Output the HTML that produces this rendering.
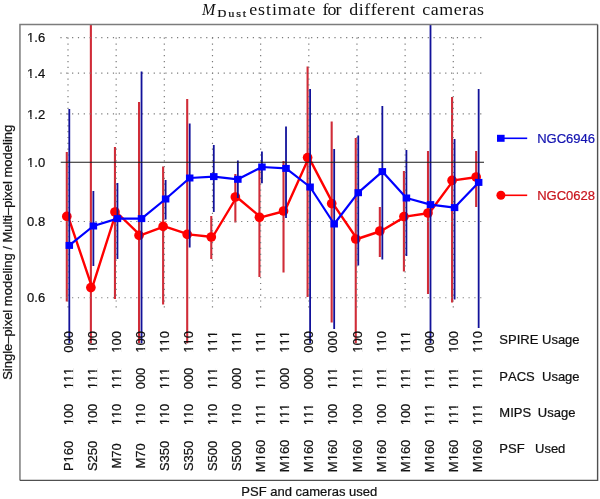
<!DOCTYPE html>
<html><head><meta charset="utf-8"><title>MDust estimate</title>
<style>
html,body{margin:0;padding:0;background:#fff;}
body{width:600px;height:499px;overflow:hidden;}
svg{display:block;}
text{font-family:"Liberation Sans",sans-serif;font-kerning:none;stroke-width:0.22px;}
.serif{font-family:"Liberation Serif",serif;}
</style></head><body>
<svg width="600" height="499" viewBox="0 0 600 499" style="will-change:transform">
<defs><clipPath id="clip"><rect x="20" y="24.4" width="577" height="319.1"/></clipPath></defs>
<rect x="0" y="0" width="600" height="499" fill="#fff"/>
<g transform="translate(45.2,42.26)"><text x="0" y="0" font-size="13" text-anchor="end" fill="#111" stroke="#111">1.6</text><rect x="-17.97" y="-1.8" width="3.07" height="2.6" fill="#fff"/><rect x="-13.55" y="-1.8" width="2.58" height="2.6" fill="#fff"/></g>
<g transform="translate(45.2,77.67)"><text x="0" y="0" font-size="13" text-anchor="end" fill="#111" stroke="#111">1.4</text><rect x="-17.97" y="-1.8" width="3.07" height="2.6" fill="#fff"/><rect x="-13.55" y="-1.8" width="2.58" height="2.6" fill="#fff"/></g>
<g transform="translate(45.2,118.55)"><text x="0" y="0" font-size="13" text-anchor="end" fill="#111" stroke="#111">1.2</text><rect x="-17.97" y="-1.8" width="3.07" height="2.6" fill="#fff"/><rect x="-13.55" y="-1.8" width="2.58" height="2.6" fill="#fff"/></g>
<g transform="translate(45.2,166.90)"><text x="0" y="0" font-size="13" text-anchor="end" fill="#111" stroke="#111">1.0</text><rect x="-17.97" y="-1.8" width="3.07" height="2.6" fill="#fff"/><rect x="-13.55" y="-1.8" width="2.58" height="2.6" fill="#fff"/></g>
<g transform="translate(45.2,226.08)"><text x="0" y="0" font-size="13" text-anchor="end" fill="#111" stroke="#111">0.8</text></g>
<g transform="translate(45.2,302.37)"><text x="0" y="0" font-size="13" text-anchor="end" fill="#111" stroke="#111">0.6</text></g>
<g clip-path="url(#clip)">
<line x1="66.80" y1="152" x2="66.80" y2="301.6" stroke="#d02c38" stroke-width="2.1"/>
<line x1="90.88" y1="20" x2="90.88" y2="343.5" stroke="#d02c38" stroke-width="2.1"/>
<line x1="114.96" y1="147" x2="114.96" y2="299" stroke="#d02c38" stroke-width="2.1"/>
<line x1="139.04" y1="102" x2="139.04" y2="343.5" stroke="#d02c38" stroke-width="2.1"/>
<line x1="163.12" y1="166.4" x2="163.12" y2="304.4" stroke="#d02c38" stroke-width="2.1"/>
<line x1="187.20" y1="99" x2="187.20" y2="343.5" stroke="#d02c38" stroke-width="2.1"/>
<line x1="211.28" y1="216" x2="211.28" y2="259" stroke="#d02c38" stroke-width="2.1"/>
<line x1="235.36" y1="174" x2="235.36" y2="222.4" stroke="#d02c38" stroke-width="2.1"/>
<line x1="259.44" y1="168" x2="259.44" y2="277" stroke="#d02c38" stroke-width="2.1"/>
<line x1="283.52" y1="161" x2="283.52" y2="272.4" stroke="#d02c38" stroke-width="2.1"/>
<line x1="307.60" y1="66.6" x2="307.60" y2="297" stroke="#d02c38" stroke-width="2.1"/>
<line x1="331.68" y1="121.4" x2="331.68" y2="322.4" stroke="#d02c38" stroke-width="2.1"/>
<line x1="355.76" y1="138" x2="355.76" y2="343.5" stroke="#d02c38" stroke-width="2.1"/>
<line x1="379.84" y1="207" x2="379.84" y2="257" stroke="#d02c38" stroke-width="2.1"/>
<line x1="403.92" y1="171" x2="403.92" y2="271.6" stroke="#d02c38" stroke-width="2.1"/>
<line x1="428.00" y1="151" x2="428.00" y2="294" stroke="#d02c38" stroke-width="2.1"/>
<line x1="452.08" y1="97" x2="452.08" y2="302.6" stroke="#d02c38" stroke-width="2.1"/>
<line x1="476.16" y1="151" x2="476.16" y2="207" stroke="#d02c38" stroke-width="2.1"/>
<line x1="60.4" y1="37.66" x2="481.5" y2="37.66" stroke="#7a7a7a" stroke-width="1.2" stroke-dasharray="1.2 4.63"/>
<line x1="60.4" y1="73.07" x2="481.5" y2="73.07" stroke="#7a7a7a" stroke-width="1.2" stroke-dasharray="1.2 4.63"/>
<line x1="60.4" y1="113.95" x2="481.5" y2="113.95" stroke="#7a7a7a" stroke-width="1.2" stroke-dasharray="1.2 4.63"/>
<line x1="60.4" y1="221.48" x2="481.5" y2="221.48" stroke="#7a7a7a" stroke-width="1.2" stroke-dasharray="1.2 4.63"/>
<line x1="60.4" y1="297.77" x2="481.5" y2="297.77" stroke="#7a7a7a" stroke-width="1.2" stroke-dasharray="1.2 4.63"/>
<line x1="68.00" y1="37.60" x2="68.00" y2="307.5" stroke="#7a7a7a" stroke-width="1.2" stroke-dasharray="1.2 4.64"/>
<line x1="116.16" y1="37.60" x2="116.16" y2="307.5" stroke="#7a7a7a" stroke-width="1.2" stroke-dasharray="1.2 4.64"/>
<line x1="164.32" y1="37.60" x2="164.32" y2="307.5" stroke="#7a7a7a" stroke-width="1.2" stroke-dasharray="1.2 4.64"/>
<line x1="212.48" y1="37.60" x2="212.48" y2="307.5" stroke="#7a7a7a" stroke-width="1.2" stroke-dasharray="1.2 4.64"/>
<line x1="260.64" y1="37.60" x2="260.64" y2="307.5" stroke="#7a7a7a" stroke-width="1.2" stroke-dasharray="1.2 4.64"/>
<line x1="308.80" y1="37.60" x2="308.80" y2="307.5" stroke="#7a7a7a" stroke-width="1.2" stroke-dasharray="1.2 4.64"/>
<line x1="356.96" y1="37.60" x2="356.96" y2="307.5" stroke="#7a7a7a" stroke-width="1.2" stroke-dasharray="1.2 4.64"/>
<line x1="405.12" y1="37.60" x2="405.12" y2="307.5" stroke="#7a7a7a" stroke-width="1.2" stroke-dasharray="1.2 4.64"/>
<line x1="453.28" y1="37.60" x2="453.28" y2="307.5" stroke="#7a7a7a" stroke-width="1.2" stroke-dasharray="1.2 4.64"/>
<polyline points="68.10,216.4 92.18,287.6 116.26,212 140.34,235.4 164.42,226.4 188.50,234.4 212.58,237 236.66,197 260.74,217.3 284.82,211 308.90,157.6 332.98,203.6 357.06,239 381.14,231 405.22,216.6 429.30,213 453.38,180.4 477.46,177" fill="none" stroke="#ff0000" stroke-width="2.4" stroke-linejoin="round"/>
<circle cx="66.80" cy="216.4" r="4.85" fill="#ff0000"/>
<circle cx="90.88" cy="287.6" r="4.85" fill="#ff0000"/>
<circle cx="114.96" cy="212" r="4.85" fill="#ff0000"/>
<circle cx="139.04" cy="235.4" r="4.85" fill="#ff0000"/>
<circle cx="163.12" cy="226.4" r="4.85" fill="#ff0000"/>
<circle cx="187.20" cy="234.4" r="4.85" fill="#ff0000"/>
<circle cx="211.28" cy="237" r="4.85" fill="#ff0000"/>
<circle cx="235.36" cy="197" r="4.85" fill="#ff0000"/>
<circle cx="259.44" cy="217.3" r="4.85" fill="#ff0000"/>
<circle cx="283.52" cy="211" r="4.85" fill="#ff0000"/>
<circle cx="307.60" cy="157.6" r="4.85" fill="#ff0000"/>
<circle cx="331.68" cy="203.6" r="4.85" fill="#ff0000"/>
<circle cx="355.76" cy="239" r="4.85" fill="#ff0000"/>
<circle cx="379.84" cy="231" r="4.85" fill="#ff0000"/>
<circle cx="403.92" cy="216.6" r="4.85" fill="#ff0000"/>
<circle cx="428.00" cy="213" r="4.85" fill="#ff0000"/>
<circle cx="452.08" cy="180.4" r="4.85" fill="#ff0000"/>
<circle cx="476.16" cy="177" r="4.85" fill="#ff0000"/>
<line x1="69.30" y1="109" x2="69.30" y2="343.5" stroke="#12129a" stroke-width="1.8"/>
<line x1="93.38" y1="191" x2="93.38" y2="266" stroke="#12129a" stroke-width="1.8"/>
<line x1="117.46" y1="183" x2="117.46" y2="259" stroke="#12129a" stroke-width="1.8"/>
<line x1="141.54" y1="71.6" x2="141.54" y2="343.5" stroke="#12129a" stroke-width="1.8"/>
<line x1="165.62" y1="180" x2="165.62" y2="219.6" stroke="#12129a" stroke-width="1.8"/>
<line x1="189.70" y1="123.6" x2="189.70" y2="247.4" stroke="#12129a" stroke-width="1.8"/>
<line x1="213.78" y1="145" x2="213.78" y2="212" stroke="#12129a" stroke-width="1.8"/>
<line x1="237.86" y1="160.4" x2="237.86" y2="198" stroke="#12129a" stroke-width="1.8"/>
<line x1="261.94" y1="151.4" x2="261.94" y2="183.3" stroke="#12129a" stroke-width="1.8"/>
<line x1="286.02" y1="126.4" x2="286.02" y2="218" stroke="#12129a" stroke-width="1.8"/>
<line x1="310.10" y1="89" x2="310.10" y2="343.5" stroke="#12129a" stroke-width="1.8"/>
<line x1="334.18" y1="149" x2="334.18" y2="329" stroke="#12129a" stroke-width="1.8"/>
<line x1="358.26" y1="135.4" x2="358.26" y2="265.6" stroke="#12129a" stroke-width="1.8"/>
<line x1="382.34" y1="106" x2="382.34" y2="259.6" stroke="#12129a" stroke-width="1.8"/>
<line x1="406.42" y1="150" x2="406.42" y2="256" stroke="#12129a" stroke-width="1.8"/>
<line x1="430.50" y1="20" x2="430.50" y2="343.5" stroke="#12129a" stroke-width="1.8"/>
<line x1="454.58" y1="139" x2="454.58" y2="299.6" stroke="#12129a" stroke-width="1.8"/>
<line x1="478.66" y1="89" x2="478.66" y2="328" stroke="#12129a" stroke-width="1.8"/>
<polyline points="69.30,245.4 93.38,226 117.46,218.6 141.54,218.6 165.62,199 189.70,178 213.78,176.6 237.86,179.3 261.94,167 286.02,168.4 310.10,187 334.18,224 358.26,192.7 382.34,171.6 406.42,198 430.50,204.6 454.58,207.6 478.66,182.4" fill="none" stroke="#0000ff" stroke-width="2.2" stroke-linejoin="round"/>
<rect x="65.55" y="241.90" width="7.5" height="7" fill="#0000ff"/>
<rect x="89.63" y="222.50" width="7.5" height="7" fill="#0000ff"/>
<rect x="113.71" y="215.10" width="7.5" height="7" fill="#0000ff"/>
<rect x="137.79" y="215.10" width="7.5" height="7" fill="#0000ff"/>
<rect x="161.87" y="195.50" width="7.5" height="7" fill="#0000ff"/>
<rect x="185.95" y="174.50" width="7.5" height="7" fill="#0000ff"/>
<rect x="210.03" y="173.10" width="7.5" height="7" fill="#0000ff"/>
<rect x="234.11" y="175.80" width="7.5" height="7" fill="#0000ff"/>
<rect x="258.19" y="163.50" width="7.5" height="7" fill="#0000ff"/>
<rect x="282.27" y="164.90" width="7.5" height="7" fill="#0000ff"/>
<rect x="306.35" y="183.50" width="7.5" height="7" fill="#0000ff"/>
<rect x="330.43" y="220.50" width="7.5" height="7" fill="#0000ff"/>
<rect x="354.51" y="189.20" width="7.5" height="7" fill="#0000ff"/>
<rect x="378.59" y="168.10" width="7.5" height="7" fill="#0000ff"/>
<rect x="402.67" y="194.50" width="7.5" height="7" fill="#0000ff"/>
<rect x="426.75" y="201.10" width="7.5" height="7" fill="#0000ff"/>
<rect x="450.83" y="204.10" width="7.5" height="7" fill="#0000ff"/>
<rect x="474.91" y="178.90" width="7.5" height="7" fill="#0000ff"/>
</g>
<line x1="60.7" y1="162.30" x2="484" y2="162.30" stroke="#1a1a1a" stroke-width="1.1"/>
<line x1="501" y1="138.3" x2="527.2" y2="138.3" stroke="#0000ff" stroke-width="1.6"/>
<rect x="497" y="134.8" width="7.6" height="7" fill="#0000ff"/>
<text x="537.2" y="142.9" font-size="13" fill="#1212b0" stroke="#1212b0">NGC6946</text>
<line x1="501" y1="195.3" x2="527.2" y2="195.3" stroke="#ff0000" stroke-width="1.6"/>
<circle cx="500.9" cy="195.3" r="4.5" fill="#ff0000"/>
<text x="537.2" y="199.7" font-size="13" fill="#c8141c" stroke="#c8141c">NGC0628</text>
<g transform="translate(72.60,341.8) rotate(-90)"><text x="0" y="0" font-size="13" text-anchor="middle" fill="#111" stroke="#111">000</text></g>
<g transform="translate(96.68,341.8) rotate(-90)"><text x="0" y="0" font-size="13" text-anchor="middle" fill="#111" stroke="#111">100</text><rect x="-10.74" y="-1.8" width="3.07" height="2.6" fill="#fff"/><rect x="-6.33" y="-1.8" width="2.58" height="2.6" fill="#fff"/></g>
<g transform="translate(120.76,341.8) rotate(-90)"><text x="0" y="0" font-size="13" text-anchor="middle" fill="#111" stroke="#111">100</text><rect x="-10.74" y="-1.8" width="3.07" height="2.6" fill="#fff"/><rect x="-6.33" y="-1.8" width="2.58" height="2.6" fill="#fff"/></g>
<g transform="translate(144.84,341.8) rotate(-90)"><text x="0" y="0" font-size="13" text-anchor="middle" fill="#111" stroke="#111">100</text><rect x="-10.74" y="-1.8" width="3.07" height="2.6" fill="#fff"/><rect x="-6.33" y="-1.8" width="2.58" height="2.6" fill="#fff"/></g>
<g transform="translate(168.92,341.8) rotate(-90)"><text x="0" y="0" font-size="13" text-anchor="middle" fill="#111" stroke="#111">110</text><rect x="-10.74" y="-1.8" width="3.07" height="2.6" fill="#fff"/><rect x="-6.33" y="-1.8" width="2.58" height="2.6" fill="#fff"/><rect x="-3.51" y="-1.8" width="3.07" height="2.6" fill="#fff"/><rect x="0.90" y="-1.8" width="2.58" height="2.6" fill="#fff"/></g>
<g transform="translate(193.00,341.8) rotate(-90)"><text x="0" y="0" font-size="13" text-anchor="middle" fill="#111" stroke="#111">110</text><rect x="-10.74" y="-1.8" width="3.07" height="2.6" fill="#fff"/><rect x="-6.33" y="-1.8" width="2.58" height="2.6" fill="#fff"/><rect x="-3.51" y="-1.8" width="3.07" height="2.6" fill="#fff"/><rect x="0.90" y="-1.8" width="2.58" height="2.6" fill="#fff"/></g>
<g transform="translate(217.08,341.8) rotate(-90)"><text x="0" y="0" font-size="13" text-anchor="middle" fill="#111" stroke="#111">111</text><rect x="-10.74" y="-1.8" width="3.07" height="2.6" fill="#fff"/><rect x="-6.33" y="-1.8" width="2.58" height="2.6" fill="#fff"/><rect x="-3.51" y="-1.8" width="3.07" height="2.6" fill="#fff"/><rect x="0.90" y="-1.8" width="2.58" height="2.6" fill="#fff"/><rect x="3.71" y="-1.8" width="3.07" height="2.6" fill="#fff"/><rect x="8.13" y="-1.8" width="2.58" height="2.6" fill="#fff"/></g>
<g transform="translate(241.16,341.8) rotate(-90)"><text x="0" y="0" font-size="13" text-anchor="middle" fill="#111" stroke="#111">111</text><rect x="-10.74" y="-1.8" width="3.07" height="2.6" fill="#fff"/><rect x="-6.33" y="-1.8" width="2.58" height="2.6" fill="#fff"/><rect x="-3.51" y="-1.8" width="3.07" height="2.6" fill="#fff"/><rect x="0.90" y="-1.8" width="2.58" height="2.6" fill="#fff"/><rect x="3.71" y="-1.8" width="3.07" height="2.6" fill="#fff"/><rect x="8.13" y="-1.8" width="2.58" height="2.6" fill="#fff"/></g>
<g transform="translate(265.24,341.8) rotate(-90)"><text x="0" y="0" font-size="13" text-anchor="middle" fill="#111" stroke="#111">111</text><rect x="-10.74" y="-1.8" width="3.07" height="2.6" fill="#fff"/><rect x="-6.33" y="-1.8" width="2.58" height="2.6" fill="#fff"/><rect x="-3.51" y="-1.8" width="3.07" height="2.6" fill="#fff"/><rect x="0.90" y="-1.8" width="2.58" height="2.6" fill="#fff"/><rect x="3.71" y="-1.8" width="3.07" height="2.6" fill="#fff"/><rect x="8.13" y="-1.8" width="2.58" height="2.6" fill="#fff"/></g>
<g transform="translate(289.32,341.8) rotate(-90)"><text x="0" y="0" font-size="13" text-anchor="middle" fill="#111" stroke="#111">111</text><rect x="-10.74" y="-1.8" width="3.07" height="2.6" fill="#fff"/><rect x="-6.33" y="-1.8" width="2.58" height="2.6" fill="#fff"/><rect x="-3.51" y="-1.8" width="3.07" height="2.6" fill="#fff"/><rect x="0.90" y="-1.8" width="2.58" height="2.6" fill="#fff"/><rect x="3.71" y="-1.8" width="3.07" height="2.6" fill="#fff"/><rect x="8.13" y="-1.8" width="2.58" height="2.6" fill="#fff"/></g>
<g transform="translate(313.40,341.8) rotate(-90)"><text x="0" y="0" font-size="13" text-anchor="middle" fill="#111" stroke="#111">000</text></g>
<g transform="translate(337.48,341.8) rotate(-90)"><text x="0" y="0" font-size="13" text-anchor="middle" fill="#111" stroke="#111">000</text></g>
<g transform="translate(361.56,341.8) rotate(-90)"><text x="0" y="0" font-size="13" text-anchor="middle" fill="#111" stroke="#111">100</text><rect x="-10.74" y="-1.8" width="3.07" height="2.6" fill="#fff"/><rect x="-6.33" y="-1.8" width="2.58" height="2.6" fill="#fff"/></g>
<g transform="translate(385.64,341.8) rotate(-90)"><text x="0" y="0" font-size="13" text-anchor="middle" fill="#111" stroke="#111">110</text><rect x="-10.74" y="-1.8" width="3.07" height="2.6" fill="#fff"/><rect x="-6.33" y="-1.8" width="2.58" height="2.6" fill="#fff"/><rect x="-3.51" y="-1.8" width="3.07" height="2.6" fill="#fff"/><rect x="0.90" y="-1.8" width="2.58" height="2.6" fill="#fff"/></g>
<g transform="translate(409.72,341.8) rotate(-90)"><text x="0" y="0" font-size="13" text-anchor="middle" fill="#111" stroke="#111">111</text><rect x="-10.74" y="-1.8" width="3.07" height="2.6" fill="#fff"/><rect x="-6.33" y="-1.8" width="2.58" height="2.6" fill="#fff"/><rect x="-3.51" y="-1.8" width="3.07" height="2.6" fill="#fff"/><rect x="0.90" y="-1.8" width="2.58" height="2.6" fill="#fff"/><rect x="3.71" y="-1.8" width="3.07" height="2.6" fill="#fff"/><rect x="8.13" y="-1.8" width="2.58" height="2.6" fill="#fff"/></g>
<g transform="translate(433.80,341.8) rotate(-90)"><text x="0" y="0" font-size="13" text-anchor="middle" fill="#111" stroke="#111">000</text></g>
<g transform="translate(457.88,341.8) rotate(-90)"><text x="0" y="0" font-size="13" text-anchor="middle" fill="#111" stroke="#111">100</text><rect x="-10.74" y="-1.8" width="3.07" height="2.6" fill="#fff"/><rect x="-6.33" y="-1.8" width="2.58" height="2.6" fill="#fff"/></g>
<g transform="translate(481.96,341.8) rotate(-90)"><text x="0" y="0" font-size="13" text-anchor="middle" fill="#111" stroke="#111">110</text><rect x="-10.74" y="-1.8" width="3.07" height="2.6" fill="#fff"/><rect x="-6.33" y="-1.8" width="2.58" height="2.6" fill="#fff"/><rect x="-3.51" y="-1.8" width="3.07" height="2.6" fill="#fff"/><rect x="0.90" y="-1.8" width="2.58" height="2.6" fill="#fff"/></g>
<g transform="translate(72.60,378.5) rotate(-90)"><text x="0" y="0" font-size="13" text-anchor="middle" fill="#111" stroke="#111">111</text><rect x="-10.74" y="-1.8" width="3.07" height="2.6" fill="#fff"/><rect x="-6.33" y="-1.8" width="2.58" height="2.6" fill="#fff"/><rect x="-3.51" y="-1.8" width="3.07" height="2.6" fill="#fff"/><rect x="0.90" y="-1.8" width="2.58" height="2.6" fill="#fff"/><rect x="3.71" y="-1.8" width="3.07" height="2.6" fill="#fff"/><rect x="8.13" y="-1.8" width="2.58" height="2.6" fill="#fff"/></g>
<g transform="translate(96.68,378.5) rotate(-90)"><text x="0" y="0" font-size="13" text-anchor="middle" fill="#111" stroke="#111">111</text><rect x="-10.74" y="-1.8" width="3.07" height="2.6" fill="#fff"/><rect x="-6.33" y="-1.8" width="2.58" height="2.6" fill="#fff"/><rect x="-3.51" y="-1.8" width="3.07" height="2.6" fill="#fff"/><rect x="0.90" y="-1.8" width="2.58" height="2.6" fill="#fff"/><rect x="3.71" y="-1.8" width="3.07" height="2.6" fill="#fff"/><rect x="8.13" y="-1.8" width="2.58" height="2.6" fill="#fff"/></g>
<g transform="translate(120.76,378.5) rotate(-90)"><text x="0" y="0" font-size="13" text-anchor="middle" fill="#111" stroke="#111">111</text><rect x="-10.74" y="-1.8" width="3.07" height="2.6" fill="#fff"/><rect x="-6.33" y="-1.8" width="2.58" height="2.6" fill="#fff"/><rect x="-3.51" y="-1.8" width="3.07" height="2.6" fill="#fff"/><rect x="0.90" y="-1.8" width="2.58" height="2.6" fill="#fff"/><rect x="3.71" y="-1.8" width="3.07" height="2.6" fill="#fff"/><rect x="8.13" y="-1.8" width="2.58" height="2.6" fill="#fff"/></g>
<g transform="translate(144.84,378.5) rotate(-90)"><text x="0" y="0" font-size="13" text-anchor="middle" fill="#111" stroke="#111">000</text></g>
<g transform="translate(168.92,378.5) rotate(-90)"><text x="0" y="0" font-size="13" text-anchor="middle" fill="#111" stroke="#111">111</text><rect x="-10.74" y="-1.8" width="3.07" height="2.6" fill="#fff"/><rect x="-6.33" y="-1.8" width="2.58" height="2.6" fill="#fff"/><rect x="-3.51" y="-1.8" width="3.07" height="2.6" fill="#fff"/><rect x="0.90" y="-1.8" width="2.58" height="2.6" fill="#fff"/><rect x="3.71" y="-1.8" width="3.07" height="2.6" fill="#fff"/><rect x="8.13" y="-1.8" width="2.58" height="2.6" fill="#fff"/></g>
<g transform="translate(193.00,378.5) rotate(-90)"><text x="0" y="0" font-size="13" text-anchor="middle" fill="#111" stroke="#111">000</text></g>
<g transform="translate(217.08,378.5) rotate(-90)"><text x="0" y="0" font-size="13" text-anchor="middle" fill="#111" stroke="#111">111</text><rect x="-10.74" y="-1.8" width="3.07" height="2.6" fill="#fff"/><rect x="-6.33" y="-1.8" width="2.58" height="2.6" fill="#fff"/><rect x="-3.51" y="-1.8" width="3.07" height="2.6" fill="#fff"/><rect x="0.90" y="-1.8" width="2.58" height="2.6" fill="#fff"/><rect x="3.71" y="-1.8" width="3.07" height="2.6" fill="#fff"/><rect x="8.13" y="-1.8" width="2.58" height="2.6" fill="#fff"/></g>
<g transform="translate(241.16,378.5) rotate(-90)"><text x="0" y="0" font-size="13" text-anchor="middle" fill="#111" stroke="#111">000</text></g>
<g transform="translate(265.24,378.5) rotate(-90)"><text x="0" y="0" font-size="13" text-anchor="middle" fill="#111" stroke="#111">111</text><rect x="-10.74" y="-1.8" width="3.07" height="2.6" fill="#fff"/><rect x="-6.33" y="-1.8" width="2.58" height="2.6" fill="#fff"/><rect x="-3.51" y="-1.8" width="3.07" height="2.6" fill="#fff"/><rect x="0.90" y="-1.8" width="2.58" height="2.6" fill="#fff"/><rect x="3.71" y="-1.8" width="3.07" height="2.6" fill="#fff"/><rect x="8.13" y="-1.8" width="2.58" height="2.6" fill="#fff"/></g>
<g transform="translate(289.32,378.5) rotate(-90)"><text x="0" y="0" font-size="13" text-anchor="middle" fill="#111" stroke="#111">000</text></g>
<g transform="translate(313.40,378.5) rotate(-90)"><text x="0" y="0" font-size="13" text-anchor="middle" fill="#111" stroke="#111">000</text></g>
<g transform="translate(337.48,378.5) rotate(-90)"><text x="0" y="0" font-size="13" text-anchor="middle" fill="#111" stroke="#111">111</text><rect x="-10.74" y="-1.8" width="3.07" height="2.6" fill="#fff"/><rect x="-6.33" y="-1.8" width="2.58" height="2.6" fill="#fff"/><rect x="-3.51" y="-1.8" width="3.07" height="2.6" fill="#fff"/><rect x="0.90" y="-1.8" width="2.58" height="2.6" fill="#fff"/><rect x="3.71" y="-1.8" width="3.07" height="2.6" fill="#fff"/><rect x="8.13" y="-1.8" width="2.58" height="2.6" fill="#fff"/></g>
<g transform="translate(361.56,378.5) rotate(-90)"><text x="0" y="0" font-size="13" text-anchor="middle" fill="#111" stroke="#111">111</text><rect x="-10.74" y="-1.8" width="3.07" height="2.6" fill="#fff"/><rect x="-6.33" y="-1.8" width="2.58" height="2.6" fill="#fff"/><rect x="-3.51" y="-1.8" width="3.07" height="2.6" fill="#fff"/><rect x="0.90" y="-1.8" width="2.58" height="2.6" fill="#fff"/><rect x="3.71" y="-1.8" width="3.07" height="2.6" fill="#fff"/><rect x="8.13" y="-1.8" width="2.58" height="2.6" fill="#fff"/></g>
<g transform="translate(385.64,378.5) rotate(-90)"><text x="0" y="0" font-size="13" text-anchor="middle" fill="#111" stroke="#111">111</text><rect x="-10.74" y="-1.8" width="3.07" height="2.6" fill="#fff"/><rect x="-6.33" y="-1.8" width="2.58" height="2.6" fill="#fff"/><rect x="-3.51" y="-1.8" width="3.07" height="2.6" fill="#fff"/><rect x="0.90" y="-1.8" width="2.58" height="2.6" fill="#fff"/><rect x="3.71" y="-1.8" width="3.07" height="2.6" fill="#fff"/><rect x="8.13" y="-1.8" width="2.58" height="2.6" fill="#fff"/></g>
<g transform="translate(409.72,378.5) rotate(-90)"><text x="0" y="0" font-size="13" text-anchor="middle" fill="#111" stroke="#111">111</text><rect x="-10.74" y="-1.8" width="3.07" height="2.6" fill="#fff"/><rect x="-6.33" y="-1.8" width="2.58" height="2.6" fill="#fff"/><rect x="-3.51" y="-1.8" width="3.07" height="2.6" fill="#fff"/><rect x="0.90" y="-1.8" width="2.58" height="2.6" fill="#fff"/><rect x="3.71" y="-1.8" width="3.07" height="2.6" fill="#fff"/><rect x="8.13" y="-1.8" width="2.58" height="2.6" fill="#fff"/></g>
<g transform="translate(433.80,378.5) rotate(-90)"><text x="0" y="0" font-size="13" text-anchor="middle" fill="#111" stroke="#111">111</text><rect x="-10.74" y="-1.8" width="3.07" height="2.6" fill="#fff"/><rect x="-6.33" y="-1.8" width="2.58" height="2.6" fill="#fff"/><rect x="-3.51" y="-1.8" width="3.07" height="2.6" fill="#fff"/><rect x="0.90" y="-1.8" width="2.58" height="2.6" fill="#fff"/><rect x="3.71" y="-1.8" width="3.07" height="2.6" fill="#fff"/><rect x="8.13" y="-1.8" width="2.58" height="2.6" fill="#fff"/></g>
<g transform="translate(457.88,378.5) rotate(-90)"><text x="0" y="0" font-size="13" text-anchor="middle" fill="#111" stroke="#111">111</text><rect x="-10.74" y="-1.8" width="3.07" height="2.6" fill="#fff"/><rect x="-6.33" y="-1.8" width="2.58" height="2.6" fill="#fff"/><rect x="-3.51" y="-1.8" width="3.07" height="2.6" fill="#fff"/><rect x="0.90" y="-1.8" width="2.58" height="2.6" fill="#fff"/><rect x="3.71" y="-1.8" width="3.07" height="2.6" fill="#fff"/><rect x="8.13" y="-1.8" width="2.58" height="2.6" fill="#fff"/></g>
<g transform="translate(481.96,378.5) rotate(-90)"><text x="0" y="0" font-size="13" text-anchor="middle" fill="#111" stroke="#111">111</text><rect x="-10.74" y="-1.8" width="3.07" height="2.6" fill="#fff"/><rect x="-6.33" y="-1.8" width="2.58" height="2.6" fill="#fff"/><rect x="-3.51" y="-1.8" width="3.07" height="2.6" fill="#fff"/><rect x="0.90" y="-1.8" width="2.58" height="2.6" fill="#fff"/><rect x="3.71" y="-1.8" width="3.07" height="2.6" fill="#fff"/><rect x="8.13" y="-1.8" width="2.58" height="2.6" fill="#fff"/></g>
<g transform="translate(72.60,414.5) rotate(-90)"><text x="0" y="0" font-size="13" text-anchor="middle" fill="#111" stroke="#111">100</text><rect x="-10.74" y="-1.8" width="3.07" height="2.6" fill="#fff"/><rect x="-6.33" y="-1.8" width="2.58" height="2.6" fill="#fff"/></g>
<g transform="translate(96.68,414.5) rotate(-90)"><text x="0" y="0" font-size="13" text-anchor="middle" fill="#111" stroke="#111">100</text><rect x="-10.74" y="-1.8" width="3.07" height="2.6" fill="#fff"/><rect x="-6.33" y="-1.8" width="2.58" height="2.6" fill="#fff"/></g>
<g transform="translate(120.76,414.5) rotate(-90)"><text x="0" y="0" font-size="13" text-anchor="middle" fill="#111" stroke="#111">110</text><rect x="-10.74" y="-1.8" width="3.07" height="2.6" fill="#fff"/><rect x="-6.33" y="-1.8" width="2.58" height="2.6" fill="#fff"/><rect x="-3.51" y="-1.8" width="3.07" height="2.6" fill="#fff"/><rect x="0.90" y="-1.8" width="2.58" height="2.6" fill="#fff"/></g>
<g transform="translate(144.84,414.5) rotate(-90)"><text x="0" y="0" font-size="13" text-anchor="middle" fill="#111" stroke="#111">110</text><rect x="-10.74" y="-1.8" width="3.07" height="2.6" fill="#fff"/><rect x="-6.33" y="-1.8" width="2.58" height="2.6" fill="#fff"/><rect x="-3.51" y="-1.8" width="3.07" height="2.6" fill="#fff"/><rect x="0.90" y="-1.8" width="2.58" height="2.6" fill="#fff"/></g>
<g transform="translate(168.92,414.5) rotate(-90)"><text x="0" y="0" font-size="13" text-anchor="middle" fill="#111" stroke="#111">110</text><rect x="-10.74" y="-1.8" width="3.07" height="2.6" fill="#fff"/><rect x="-6.33" y="-1.8" width="2.58" height="2.6" fill="#fff"/><rect x="-3.51" y="-1.8" width="3.07" height="2.6" fill="#fff"/><rect x="0.90" y="-1.8" width="2.58" height="2.6" fill="#fff"/></g>
<g transform="translate(193.00,414.5) rotate(-90)"><text x="0" y="0" font-size="13" text-anchor="middle" fill="#111" stroke="#111">110</text><rect x="-10.74" y="-1.8" width="3.07" height="2.6" fill="#fff"/><rect x="-6.33" y="-1.8" width="2.58" height="2.6" fill="#fff"/><rect x="-3.51" y="-1.8" width="3.07" height="2.6" fill="#fff"/><rect x="0.90" y="-1.8" width="2.58" height="2.6" fill="#fff"/></g>
<g transform="translate(217.08,414.5) rotate(-90)"><text x="0" y="0" font-size="13" text-anchor="middle" fill="#111" stroke="#111">110</text><rect x="-10.74" y="-1.8" width="3.07" height="2.6" fill="#fff"/><rect x="-6.33" y="-1.8" width="2.58" height="2.6" fill="#fff"/><rect x="-3.51" y="-1.8" width="3.07" height="2.6" fill="#fff"/><rect x="0.90" y="-1.8" width="2.58" height="2.6" fill="#fff"/></g>
<g transform="translate(241.16,414.5) rotate(-90)"><text x="0" y="0" font-size="13" text-anchor="middle" fill="#111" stroke="#111">110</text><rect x="-10.74" y="-1.8" width="3.07" height="2.6" fill="#fff"/><rect x="-6.33" y="-1.8" width="2.58" height="2.6" fill="#fff"/><rect x="-3.51" y="-1.8" width="3.07" height="2.6" fill="#fff"/><rect x="0.90" y="-1.8" width="2.58" height="2.6" fill="#fff"/></g>
<g transform="translate(265.24,414.5) rotate(-90)"><text x="0" y="0" font-size="13" text-anchor="middle" fill="#111" stroke="#111">111</text><rect x="-10.74" y="-1.8" width="3.07" height="2.6" fill="#fff"/><rect x="-6.33" y="-1.8" width="2.58" height="2.6" fill="#fff"/><rect x="-3.51" y="-1.8" width="3.07" height="2.6" fill="#fff"/><rect x="0.90" y="-1.8" width="2.58" height="2.6" fill="#fff"/><rect x="3.71" y="-1.8" width="3.07" height="2.6" fill="#fff"/><rect x="8.13" y="-1.8" width="2.58" height="2.6" fill="#fff"/></g>
<g transform="translate(289.32,414.5) rotate(-90)"><text x="0" y="0" font-size="13" text-anchor="middle" fill="#111" stroke="#111">111</text><rect x="-10.74" y="-1.8" width="3.07" height="2.6" fill="#fff"/><rect x="-6.33" y="-1.8" width="2.58" height="2.6" fill="#fff"/><rect x="-3.51" y="-1.8" width="3.07" height="2.6" fill="#fff"/><rect x="0.90" y="-1.8" width="2.58" height="2.6" fill="#fff"/><rect x="3.71" y="-1.8" width="3.07" height="2.6" fill="#fff"/><rect x="8.13" y="-1.8" width="2.58" height="2.6" fill="#fff"/></g>
<g transform="translate(313.40,414.5) rotate(-90)"><text x="0" y="0" font-size="13" text-anchor="middle" fill="#111" stroke="#111">111</text><rect x="-10.74" y="-1.8" width="3.07" height="2.6" fill="#fff"/><rect x="-6.33" y="-1.8" width="2.58" height="2.6" fill="#fff"/><rect x="-3.51" y="-1.8" width="3.07" height="2.6" fill="#fff"/><rect x="0.90" y="-1.8" width="2.58" height="2.6" fill="#fff"/><rect x="3.71" y="-1.8" width="3.07" height="2.6" fill="#fff"/><rect x="8.13" y="-1.8" width="2.58" height="2.6" fill="#fff"/></g>
<g transform="translate(337.48,414.5) rotate(-90)"><text x="0" y="0" font-size="13" text-anchor="middle" fill="#111" stroke="#111">100</text><rect x="-10.74" y="-1.8" width="3.07" height="2.6" fill="#fff"/><rect x="-6.33" y="-1.8" width="2.58" height="2.6" fill="#fff"/></g>
<g transform="translate(361.56,414.5) rotate(-90)"><text x="0" y="0" font-size="13" text-anchor="middle" fill="#111" stroke="#111">100</text><rect x="-10.74" y="-1.8" width="3.07" height="2.6" fill="#fff"/><rect x="-6.33" y="-1.8" width="2.58" height="2.6" fill="#fff"/></g>
<g transform="translate(385.64,414.5) rotate(-90)"><text x="0" y="0" font-size="13" text-anchor="middle" fill="#111" stroke="#111">100</text><rect x="-10.74" y="-1.8" width="3.07" height="2.6" fill="#fff"/><rect x="-6.33" y="-1.8" width="2.58" height="2.6" fill="#fff"/></g>
<g transform="translate(409.72,414.5) rotate(-90)"><text x="0" y="0" font-size="13" text-anchor="middle" fill="#111" stroke="#111">100</text><rect x="-10.74" y="-1.8" width="3.07" height="2.6" fill="#fff"/><rect x="-6.33" y="-1.8" width="2.58" height="2.6" fill="#fff"/></g>
<g transform="translate(433.80,414.5) rotate(-90)"><text x="0" y="0" font-size="13" text-anchor="middle" fill="#111" stroke="#111">111</text><rect x="-10.74" y="-1.8" width="3.07" height="2.6" fill="#fff"/><rect x="-6.33" y="-1.8" width="2.58" height="2.6" fill="#fff"/><rect x="-3.51" y="-1.8" width="3.07" height="2.6" fill="#fff"/><rect x="0.90" y="-1.8" width="2.58" height="2.6" fill="#fff"/><rect x="3.71" y="-1.8" width="3.07" height="2.6" fill="#fff"/><rect x="8.13" y="-1.8" width="2.58" height="2.6" fill="#fff"/></g>
<g transform="translate(457.88,414.5) rotate(-90)"><text x="0" y="0" font-size="13" text-anchor="middle" fill="#111" stroke="#111">111</text><rect x="-10.74" y="-1.8" width="3.07" height="2.6" fill="#fff"/><rect x="-6.33" y="-1.8" width="2.58" height="2.6" fill="#fff"/><rect x="-3.51" y="-1.8" width="3.07" height="2.6" fill="#fff"/><rect x="0.90" y="-1.8" width="2.58" height="2.6" fill="#fff"/><rect x="3.71" y="-1.8" width="3.07" height="2.6" fill="#fff"/><rect x="8.13" y="-1.8" width="2.58" height="2.6" fill="#fff"/></g>
<g transform="translate(481.96,414.5) rotate(-90)"><text x="0" y="0" font-size="13" text-anchor="middle" fill="#111" stroke="#111">111</text><rect x="-10.74" y="-1.8" width="3.07" height="2.6" fill="#fff"/><rect x="-6.33" y="-1.8" width="2.58" height="2.6" fill="#fff"/><rect x="-3.51" y="-1.8" width="3.07" height="2.6" fill="#fff"/><rect x="0.90" y="-1.8" width="2.58" height="2.6" fill="#fff"/><rect x="3.71" y="-1.8" width="3.07" height="2.6" fill="#fff"/><rect x="8.13" y="-1.8" width="2.58" height="2.6" fill="#fff"/></g>
<g transform="translate(72.60,455.9) rotate(-90)"><text x="0" y="0" font-size="13" text-anchor="middle" fill="#111" stroke="#111">P160</text><rect x="-6.41" y="-1.8" width="3.07" height="2.6" fill="#fff"/><rect x="-1.99" y="-1.8" width="2.58" height="2.6" fill="#fff"/></g>
<g transform="translate(96.68,455.9) rotate(-90)"><text x="0" y="0" font-size="13" text-anchor="middle" fill="#111" stroke="#111">S250</text></g>
<g transform="translate(120.76,455.9) rotate(-90)"><text x="0" y="0" font-size="13" text-anchor="middle" fill="#111" stroke="#111">M70</text></g>
<g transform="translate(144.84,455.9) rotate(-90)"><text x="0" y="0" font-size="13" text-anchor="middle" fill="#111" stroke="#111">M70</text></g>
<g transform="translate(168.92,455.9) rotate(-90)"><text x="0" y="0" font-size="13" text-anchor="middle" fill="#111" stroke="#111">S350</text></g>
<g transform="translate(193.00,455.9) rotate(-90)"><text x="0" y="0" font-size="13" text-anchor="middle" fill="#111" stroke="#111">S350</text></g>
<g transform="translate(217.08,455.9) rotate(-90)"><text x="0" y="0" font-size="13" text-anchor="middle" fill="#111" stroke="#111">S500</text></g>
<g transform="translate(241.16,455.9) rotate(-90)"><text x="0" y="0" font-size="13" text-anchor="middle" fill="#111" stroke="#111">S500</text></g>
<g transform="translate(265.24,455.9) rotate(-90)"><text x="0" y="0" font-size="13" text-anchor="middle" fill="#111" stroke="#111">M160</text><rect x="-5.33" y="-1.8" width="3.07" height="2.6" fill="#fff"/><rect x="-0.91" y="-1.8" width="2.58" height="2.6" fill="#fff"/></g>
<g transform="translate(289.32,455.9) rotate(-90)"><text x="0" y="0" font-size="13" text-anchor="middle" fill="#111" stroke="#111">M160</text><rect x="-5.33" y="-1.8" width="3.07" height="2.6" fill="#fff"/><rect x="-0.91" y="-1.8" width="2.58" height="2.6" fill="#fff"/></g>
<g transform="translate(313.40,455.9) rotate(-90)"><text x="0" y="0" font-size="13" text-anchor="middle" fill="#111" stroke="#111">M160</text><rect x="-5.33" y="-1.8" width="3.07" height="2.6" fill="#fff"/><rect x="-0.91" y="-1.8" width="2.58" height="2.6" fill="#fff"/></g>
<g transform="translate(337.48,455.9) rotate(-90)"><text x="0" y="0" font-size="13" text-anchor="middle" fill="#111" stroke="#111">M160</text><rect x="-5.33" y="-1.8" width="3.07" height="2.6" fill="#fff"/><rect x="-0.91" y="-1.8" width="2.58" height="2.6" fill="#fff"/></g>
<g transform="translate(361.56,455.9) rotate(-90)"><text x="0" y="0" font-size="13" text-anchor="middle" fill="#111" stroke="#111">M160</text><rect x="-5.33" y="-1.8" width="3.07" height="2.6" fill="#fff"/><rect x="-0.91" y="-1.8" width="2.58" height="2.6" fill="#fff"/></g>
<g transform="translate(385.64,455.9) rotate(-90)"><text x="0" y="0" font-size="13" text-anchor="middle" fill="#111" stroke="#111">M160</text><rect x="-5.33" y="-1.8" width="3.07" height="2.6" fill="#fff"/><rect x="-0.91" y="-1.8" width="2.58" height="2.6" fill="#fff"/></g>
<g transform="translate(409.72,455.9) rotate(-90)"><text x="0" y="0" font-size="13" text-anchor="middle" fill="#111" stroke="#111">M160</text><rect x="-5.33" y="-1.8" width="3.07" height="2.6" fill="#fff"/><rect x="-0.91" y="-1.8" width="2.58" height="2.6" fill="#fff"/></g>
<g transform="translate(433.80,455.9) rotate(-90)"><text x="0" y="0" font-size="13" text-anchor="middle" fill="#111" stroke="#111">M160</text><rect x="-5.33" y="-1.8" width="3.07" height="2.6" fill="#fff"/><rect x="-0.91" y="-1.8" width="2.58" height="2.6" fill="#fff"/></g>
<g transform="translate(457.88,455.9) rotate(-90)"><text x="0" y="0" font-size="13" text-anchor="middle" fill="#111" stroke="#111">M160</text><rect x="-5.33" y="-1.8" width="3.07" height="2.6" fill="#fff"/><rect x="-0.91" y="-1.8" width="2.58" height="2.6" fill="#fff"/></g>
<g transform="translate(481.96,455.9) rotate(-90)"><text x="0" y="0" font-size="13" text-anchor="middle" fill="#111" stroke="#111">M160</text><rect x="-5.33" y="-1.8" width="3.07" height="2.6" fill="#fff"/><rect x="-0.91" y="-1.8" width="2.58" height="2.6" fill="#fff"/></g>
<text x="499.3" y="343.6" font-size="13" fill="#111" stroke="#111">SPIRE</text>
<text x="542.0" y="343.6" font-size="13" fill="#111" stroke="#111">Usage</text>
<text x="499.3" y="380.7" font-size="13" fill="#111" stroke="#111">PACS</text>
<text x="542.0" y="380.7" font-size="13" fill="#111" stroke="#111">Usage</text>
<text x="499.3" y="417.2" font-size="13" fill="#111" stroke="#111">MIPS</text>
<text x="537.8" y="417.2" font-size="13" fill="#111" stroke="#111">Usage</text>
<text x="499.3" y="453.3" font-size="13" fill="#111" stroke="#111">PSF</text>
<text x="535.0" y="453.3" font-size="13" fill="#111" stroke="#111">Used</text>
<text transform="translate(12.4,252.3) rotate(-90)" font-size="13" text-anchor="middle" fill="#111" stroke="#111">Single–pixel modeling / Multi–pixel modeling</text>
<text x="309.3" y="496.2" font-size="13" text-anchor="middle" fill="#111" stroke="#111">PSF and cameras used</text>
<text class="serif" x="202" y="14.6" font-size="16" font-style="italic" fill="#111">M</text>
<g transform="translate(217.6,17.1) scale(1.2,1)"><text class="serif" x="0" y="0" font-size="10.2" fill="#111" textLength="23.9" lengthAdjust="spacing" stroke="#111" stroke-width="0.25">Dust</text></g>
<g transform="translate(249.2,14.7) scale(1.12,1)"><text class="serif" x="0" y="0" font-size="16" fill="#111" textLength="59.11" lengthAdjust="spacing">estimate</text></g>
<g transform="translate(322.4,14.7) scale(1.12,1)"><text class="serif" x="0" y="0" font-size="16" fill="#111" textLength="17.14" lengthAdjust="spacing">for</text></g>
<g transform="translate(349.3,14.7) scale(1.12,1)"><text class="serif" x="0" y="0" font-size="16" fill="#111" textLength="58.57" lengthAdjust="spacing">different</text></g>
<g transform="translate(422.3,14.7) scale(1.12,1)"><text class="serif" x="0" y="0" font-size="16" fill="#111" textLength="55.18" lengthAdjust="spacing">cameras</text></g>
<path d="M19.95,480.4 V24.4 H597.6" fill="none" stroke="#7c7c7c" stroke-width="1.5"/>
<path d="M19.95,480.4 H597.6 V24.4" fill="none" stroke="#505050" stroke-width="1.4"/>
</svg>
</body></html>
